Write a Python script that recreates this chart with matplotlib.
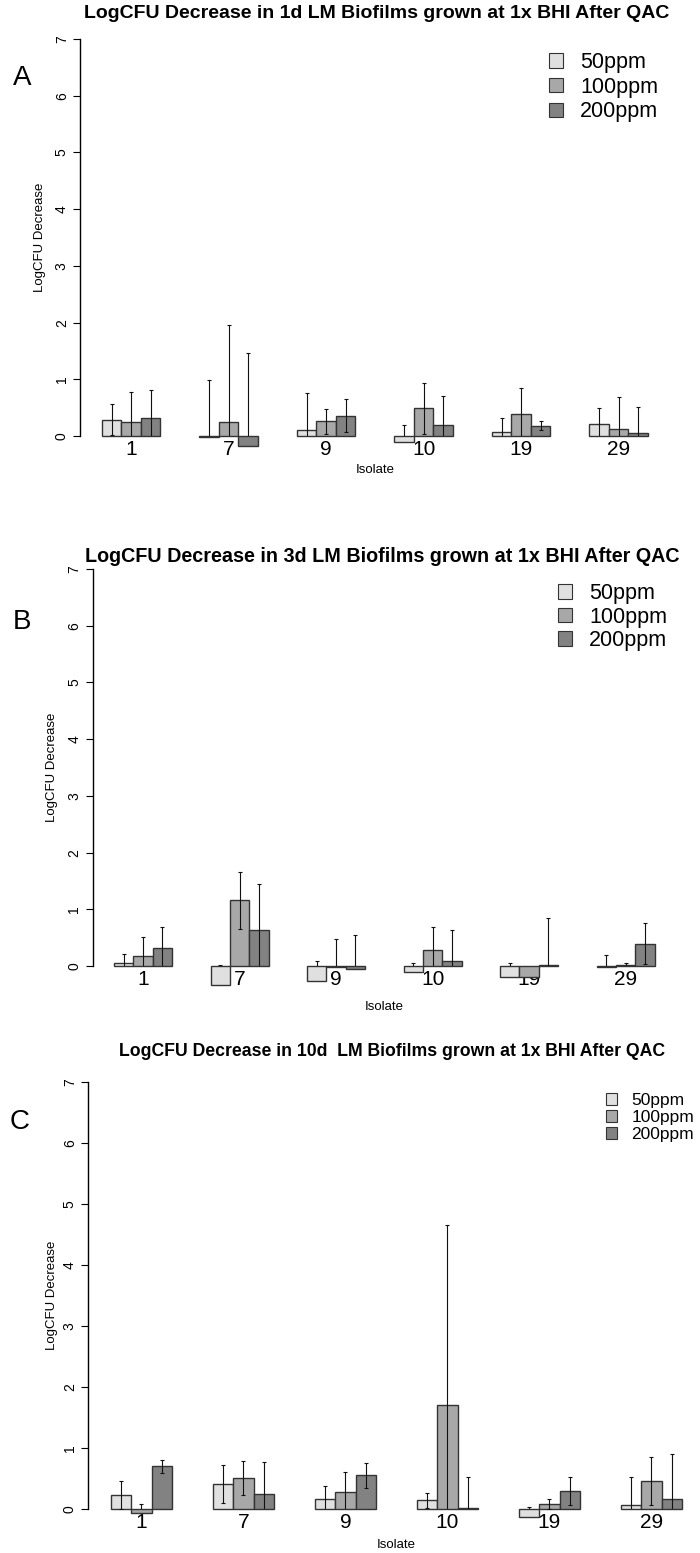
#coding:utf-8
# LogCFU decrease of LM biofilms after QAC, three panels (1d, 3d, 10d)

import numpy as np
import matplotlib
matplotlib.use('Agg')
from matplotlib import pyplot as plt
from matplotlib.patches import Patch

plt.rcParams['font.family'] = ['Liberation Sans', 'DejaVu Sans']

isolates = ['1', '7', '9', '10', '19', '29']
doses = ['50ppm', '100ppm', '200ppm']

# panel A : 1d biofilms
a_50 = [0.29, -0.01, 0.11, -0.10, 0.07, 0.22]
a_50_sd = [0.27, 1.00, 0.65, 0.29, 0.25, 0.27]
a_100 = [0.25, 0.25, 0.26, 0.49, 0.38, 0.12]
a_100_sd = [0.53, 1.71, 0.22, 0.45, 0.46, 0.56]
a_200 = [0.31, -0.18, 0.36, 0.20, 0.18, 0.05]
a_200_sd = [0.50, 1.65, 0.29, 0.50, 0.08, 0.47]

# panel B : 3d biofilms
b_50 = [0.06, -0.33, -0.27, -0.10, -0.20, -0.01]
b_50_sd = [0.16, 0.35, 0.35, 0.16, 0.25, 0.21]
b_100 = [0.17, 1.16, -0.01, 0.29, -0.20, 0.01]
b_100_sd = [0.35, 0.50, 0.48, 0.39, 0.10, 0.05]
b_200 = [0.32, 0.63, -0.05, 0.08, 0.02, 0.39]
b_200_sd = [0.36, 0.82, 0.59, 0.56, 0.82, 0.36]

# panel C : 10d biofilms
c_50 = [0.23, 0.41, 0.17, 0.14, -0.13, 0.07]
c_50_sd = [0.23, 0.31, 0.21, 0.12, 0.17, 0.46]
c_100 = [-0.07, 0.51, 0.28, 1.71, 0.08, 0.46]
c_100_sd = [0.16, 0.28, 0.33, 2.94, 0.08, 0.40]
c_200 = [0.70, 0.25, 0.55, 0.01, 0.30, 0.17]
c_200_sd = [0.11, 0.52, 0.21, 0.51, 0.23, 0.73]

colors = ['#e0e0e0', '#a8a8a8', '#828282']
W, H = 700.0, 1553.0


def drawPanel(fig, left, y0, y7, barw, means, sds, title, title_xy, title_fs,
              letter, letter_xy, ylab_x, xlab_y, leg_xy, leg_fs, leg_sp):
    width = 30.24 * barw
    ax = fig.add_axes([left / W, 1 - y0 / H, width / W, (y0 - y7) / H])
    ax.set_xlim(0.88, 31.12)
    ax.set_ylim(0, 7)

    n = len(isolates)
    for j in range(3):
        xs = 2 + 5 * np.arange(n) + j + 0.5
        ax.bar(xs, means[j], width=1.0, color=colors[j], edgecolor='#333333',
               linewidth=1.0, clip_on=False, zorder=2)
        # error bars are clipped at 0 like the R plot region
        ax.errorbar(xs, means[j], yerr=sds[j], fmt='none', ecolor='#111111',
                    elinewidth=0.8, capsize=1.6, capthick=0.8, zorder=3)

    for s in ['top', 'right', 'bottom']:
        ax.spines[s].set_visible(False)
    ax.spines['left'].set_bounds(0, 7)
    ax.spines['left'].set_linewidth(1.0)
    ax.set_yticks(range(8))
    ax.set_yticklabels([str(v) for v in range(8)], rotation=90, va='center',
                       fontsize=10)
    ax.tick_params(axis='y', length=5, width=0.8, pad=3)
    ax.set_xticks(2 + 5 * np.arange(n) + 1.5)
    ax.set_xticklabels(isolates, fontsize=15)
    ax.tick_params(axis='x', length=0, pad=3)

    fig.text(title_xy[0] / W, 1 - title_xy[1] / H, title, ha='center',
             va='center', fontsize=title_fs, fontweight='bold')
    fig.text(letter_xy[0] / W, 1 - letter_xy[1] / H, letter, ha='center',
             va='center', fontsize=20)
    fig.text(ylab_x / W, 1 - (y0 + y7) / 2 / H, 'LogCFU Decrease',
             rotation=90, ha='center', va='center', fontsize=9.5)
    fig.text((left + width / 2) / W, 1 - xlab_y / H, 'Isolate', ha='center',
             va='center', fontsize=9.5)

    handles = [Patch(facecolor=c, edgecolor='#333333', linewidth=0.8)
               for c in colors]
    ax.legend(handles, doses, loc='upper left',
              bbox_to_anchor=(leg_xy[0] / W, 1 - leg_xy[1] / H),
              bbox_transform=fig.transFigure, frameon=False,
              fontsize=leg_fs, handlelength=0.65, handleheight=0.65,
              handletextpad=0.8, labelspacing=leg_sp, borderpad=0,
              borderaxespad=0)
    return ax


fig = plt.figure(figsize=(7, 15.53), dpi=100)

drawPanel(fig, 80, 436, 39, 19.5, [a_50, a_100, a_200],
          [a_50_sd, a_100_sd, a_200_sd],
          'LogCFU Decrease in 1d LM Biofilms grown at 1x BHI After QAC',
          (377, 13), 14, 'A', (22, 78), 40, 470, (549, 52), 15.5, 0.17)

drawPanel(fig, 92.5, 966, 569, 19.3, [b_50, b_100, b_200],
          [b_50_sd, b_100_sd, b_200_sd],
          'LogCFU Decrease in 3d LM Biofilms grown at 1x BHI After QAC',
          (382, 557), 14.2, 'B', (22, 622), 52, 1007, (558, 583), 15.5, 0.12)

drawPanel(fig, 88, 1509, 1082, 20.4, [c_50, c_100, c_200],
          [c_50_sd, c_100_sd, c_200_sd],
          'LogCFU Decrease in 10d  LM Biofilms grown at 1x BHI After QAC',
          (392, 1052), 12.7, 'C', (20, 1122), 52, 1545, (606, 1093), 12.5, 0.12)

fig.savefig('out.png', dpi=100, facecolor='white')
